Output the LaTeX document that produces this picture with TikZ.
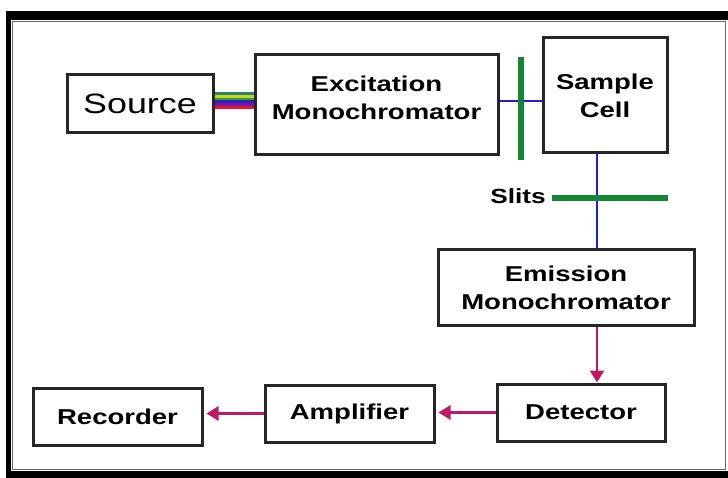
\documentclass[tikz,border=0pt]{standalone}
\usepackage{fontspec}
\setmainfont{Liberation Sans}[FakeStretch=1.28]
\usetikzlibrary{arrows.meta,positioning,calc}
\definecolor{SlitGreen}{RGB}{20,135,55}
\definecolor{BeamBlue}{RGB}{30,30,225}
\definecolor{ArrMagenta}{RGB}{190,25,100}
\definecolor{BandTeal}{RGB}{40,130,120}
\definecolor{BandYellow}{RGB}{205,215,20}
\definecolor{BandGreen}{RGB}{50,160,50}
\definecolor{BandBlue}{RGB}{45,30,200}
\definecolor{BandViolet}{RGB}{120,20,170}
\definecolor{BandRed}{RGB}{235,20,40}
\tikzset{
  box/.style={draw=black!85, line width=3pt, align=center, inner sep=0pt, font=\bfseries\fontsize{21.5}{28}\selectfont},
  beam/.style={draw=BeamBlue, line width=2.8pt},
  slit/.style={draw=SlitGreen, line width=6pt},
  arr/.style={-{Triangle[width=14pt,length=12pt]}, line width=2.8pt, draw=ArrMagenta}
}
\begin{document}
\begin{tikzpicture}[x=1pt,y=-1pt]
\useasboundingbox (0,0) rectangle (728,478);
\clip (0,0) rectangle (728,478);
% frame
\fill[black] (6,11) rectangle (745,490);
\fill[white] (11,20) rectangle (728,471);
\draw[black!60, line width=1pt] (12.5,21.5) rectangle (725,469.5);
% boxes
\node[box, minimum width=146pt, minimum height=58pt, font=\fontsize{28}{32}\selectfont] (src) at (140,104) {Source};
\node[box, minimum width=243pt, minimum height=100pt] (exc) at (376.5,105) {Excitation\\Monochromator\\[-13pt]};
\node[box, minimum width=124pt, minimum height=115pt] (cell) at (605,95.5) {Sample\\Cell};
\node[box, minimum width=256pt, minimum height=75pt] (emi) at (566,287.5) {Emission\\Monochromator};
\node[box, minimum width=168pt, minimum height=57pt] (det) at (581,412.5) {Detector};
\node[box, minimum width=169pt, minimum height=57pt] (amp) at (349.5,413.5) {Amplifier};
\node[box, minimum width=169pt, minimum height=57pt] (rec) at (117.5,416.5) {Recorder};
% white light from the source
\foreach \c [count=\i] in {BandTeal,BandYellow,BandGreen,BandBlue,BandViolet,BandRed} {
  \path (src.east) ++(0,{-10.5+2.8*(\i-1)}) coordinate (band\i);
  \draw[\c, line width=3pt] (band\i) -- (band\i -| exc.west);
}
% beams
\coordinate (bin) at ([yshift=4pt]exc.east);
\draw[beam] (bin) -- (bin -| cell.west);
\coordinate (bout) at ([xshift=-8pt]cell.south);
\draw[beam] (bout) -- (bout |- emi.north);
% slits
\draw[slit] (520.5,57) -- (520.5,160);
\draw[slit] (552,198) -- (668,198);
\node[anchor=east, inner sep=0pt, font=\bfseries\fontsize{20.5}{24}\selectfont] (slitlbl) at (546,196) {Slits};
% signal
\draw[arr] (bout |- emi.south) -- (bout |- det.north);
\draw[arr, shorten >=3pt] (det.west) -- (det.west -| amp.east);
\draw[arr, shorten >=3pt] (amp.west) -- (amp.west -| rec.east);
\end{tikzpicture}
\end{document}
